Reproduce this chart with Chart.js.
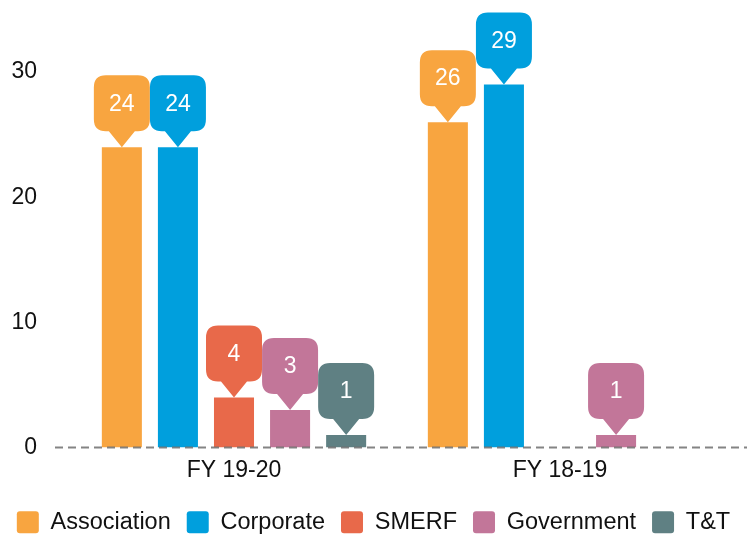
<!DOCTYPE html>
<html>
<head>
<meta charset="utf-8">
<script src="https://cdn.jsdelivr.net/npm/chart.js@4.4.0/dist/chart.umd.min.js"></script>
<style>
  html, body { margin: 0; padding: 0; background: #fff; }
  #wrap { width: 747px; height: 535px; }
</style>
</head>
<body>
<div id="wrap"><canvas id="myChart"></canvas></div>
<script>
const categories = ["FY 19-20", "FY 18-19"];
const association = [24, 26];
const corporate = [24, 29];
const smerf = [4, 0];
const government = [3, 1];
const tnt = [1, 0];
const yMax = 35;
const yStep = 10;

const colors = {
    association: "#F8A540",
    corporate: "#009FDD",
    smerf: "#E8694A",
    government: "#C27699",
    tnt: "#5F8083"
};

Chart.defaults.font.family = "'Liberation Sans', Arial, sans-serif";

// speech-bubble labels above each bar + dashed zero line
const bubblePlugin = {
    id: "bubbles",
    afterDatasetsDraw(chart) {
        const ctx = chart.ctx;
        const zeroY = chart.scales.y.getPixelForValue(0);

        ctx.save();
        ctx.strokeStyle = "rgba(110,110,110,0.85)";
        ctx.lineWidth = 2;
        ctx.setLineDash([8, 5]);
        ctx.beginPath();
        ctx.moveTo(55, zeroY);
        ctx.lineTo(chart.width, zeroY);
        ctx.stroke();
        ctx.restore();

        chart.data.datasets.forEach((ds, i) => {
            const meta = chart.getDatasetMeta(i);
            meta.data.forEach((bar, j) => {
                const v = ds.data[j];
                if (!v) return;
                const w = 56, h = 56, r = 12, tip = 16, half = 13;
                const x = bar.x, y = bar.y;
                const top = y - tip - h, bottom = y - tip;
                const left = x - w / 2, right = x + w / 2;
                ctx.save();
                ctx.fillStyle = ds.backgroundColor;
                ctx.beginPath();
                ctx.moveTo(left + r, top);
                ctx.lineTo(right - r, top);
                ctx.quadraticCurveTo(right, top, right, top + r);
                ctx.lineTo(right, bottom - r);
                ctx.quadraticCurveTo(right, bottom, right - r, bottom);
                ctx.lineTo(x + half, bottom);
                ctx.lineTo(x, y);
                ctx.lineTo(x - half, bottom);
                ctx.lineTo(left + r, bottom);
                ctx.quadraticCurveTo(left, bottom, left, bottom - r);
                ctx.lineTo(left, top + r);
                ctx.quadraticCurveTo(left, top, left + r, top);
                ctx.closePath();
                ctx.fill();
                ctx.fillStyle = "#fff";
                ctx.font = "23px 'Liberation Sans', Arial, sans-serif";
                ctx.textAlign = "center";
                ctx.textBaseline = "middle";
                ctx.fillText(String(v), x, (top + bottom) / 2 + 1);
                ctx.restore();
            });
        });
    }
};

const ctx = document.getElementById("myChart").getContext("2d");
const myChart = new Chart(ctx, {
    type: "bar",
    data: {
        labels: categories,
        datasets: [
            { label: "Association", data: association, backgroundColor: colors.association },
            { label: "Corporate", data: corporate, backgroundColor: colors.corporate },
            { label: "SMERF", data: smerf, backgroundColor: colors.smerf },
            { label: "Government", data: government, backgroundColor: colors.government },
            { label: "T&T", data: tnt, backgroundColor: colors.tnt }
        ]
    },
    options: {
        responsive: true,
        maintainAspectRatio: false,
        animation: false,
        datasets: {
            bar: { categoryPercentage: 0.86, barPercentage: 0.714 }
        },
        layout: { padding: { top: 9.5, right: 0, left: 0, bottom: -9 } },
        scales: {
            x: {
                grid: { display: false, drawTicks: false },
                border: { display: false },
                ticks: { color: "#111", font: { size: 23 }, padding: 9 },
                afterFit: (scale) => { scale.height = 47; scale.paddingRight = 24; }
            },
            y: {
                min: 0,
                max: yMax,
                grid: { display: false, drawTicks: false },
                border: { display: false },
                afterFit: (scale) => {
                    scale.width = 71;
                    scale.paddingTop = 0;
                    scale.paddingBottom = 0;
                },
                ticks: {
                    color: "#111",
                    font: { size: 23 },
                    padding: 34,
                    stepSize: yStep,
                    callback: (v) => (v % yStep === 0 ? v : "")
                }
            }
        },
        plugins: {
            legend: {
                position: "bottom",
                labels: {
                    color: "#111",
                    font: { size: 23.5 },
                    boxWidth: 22,
                    boxHeight: 22,
                    padding: 16,
                    useBorderRadius: true,
                    borderRadius: 3
                }
            },
            tooltip: { enabled: false }
        }
    },
    plugins: [bubblePlugin]
});
</script>
</body>
</html>
